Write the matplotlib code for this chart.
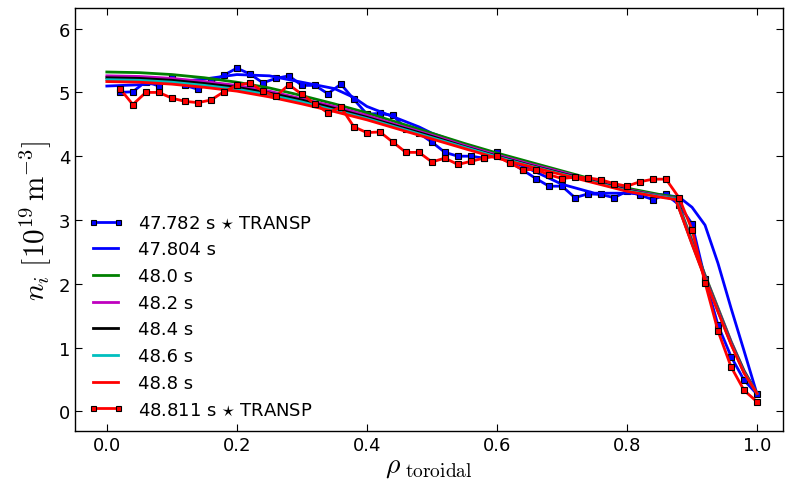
import matplotlib
matplotlib.use("Agg")
import matplotlib.pyplot as plt

plt.rcParams['mathtext.fontset'] = 'cm'
plt.rcParams['font.family'] = ['DejaVu Sans']

# radial grid for TRANSP data
rho_transp = [0.02, 0.04, 0.06, 0.08, 0.10, 0.12, 0.14, 0.16, 0.18, 0.20,
              0.22, 0.24, 0.26, 0.28, 0.30, 0.32, 0.34, 0.36, 0.38, 0.40,
              0.42, 0.44, 0.46, 0.48, 0.50, 0.52, 0.54, 0.56, 0.58, 0.60,
              0.62, 0.64, 0.66, 0.68, 0.70, 0.72, 0.74, 0.76, 0.78, 0.80,
              0.82, 0.84, 0.86, 0.88, 0.90, 0.92, 0.94, 0.96, 0.98, 1.00]

ni_transp_47782 = [5.00, 5.01, 5.17, 5.10, 5.24, 5.11, 5.05, 5.16, 5.27, 5.38,
                   5.29, 5.15, 5.22, 5.26, 5.11, 5.11, 4.98, 5.13, 4.89, 4.66,
                   4.67, 4.64, 4.43, 4.36, 4.22, 4.06, 4.00, 4.00, 3.97, 4.06,
                   3.91, 3.78, 3.65, 3.53, 3.53, 3.35, 3.41, 3.40, 3.35, 3.45,
                   3.39, 3.32, 3.40, 3.24, 2.94, 2.08, 1.35, 0.86, 0.49, 0.27]

ni_transp_48811 = [5.06, 4.81, 5.00, 5.00, 4.91, 4.86, 4.84, 4.88, 5.01, 5.11,
                   5.15, 5.02, 4.94, 5.12, 4.97, 4.82, 4.68, 4.77, 4.46, 4.37,
                   4.38, 4.22, 4.06, 4.06, 3.91, 3.97, 3.87, 3.92, 3.97, 4.00,
                   3.89, 3.79, 3.79, 3.71, 3.65, 3.67, 3.66, 3.63, 3.57, 3.53,
                   3.60, 3.64, 3.64, 3.35, 2.85, 2.02, 1.26, 0.70, 0.33, 0.15]

# fitted profile 47.804 s
rho_47804 = [0.0, 0.05, 0.1, 0.15, 0.2, 0.25, 0.3, 0.35, 0.38, 0.4, 0.45, 0.48,
             0.5, 0.55, 0.6, 0.65, 0.7, 0.75, 0.8, 0.85, 0.88, 0.9, 0.92, 0.94,
             0.96, 0.98, 1.0]
ni_47804 = [5.10, 5.12, 5.16, 5.21, 5.28, 5.26, 5.16, 5.06, 4.92, 4.78, 4.58, 4.46,
            4.36, 4.18, 4.02, 3.80, 3.56, 3.42, 3.42, 3.40, 3.36, 3.20, 2.92, 2.32,
            1.62, 0.95, 0.27]

# model profiles
rho_model = [0.0, 0.05, 0.1, 0.15, 0.2, 0.25, 0.3, 0.35, 0.4, 0.45, 0.5, 0.55,
             0.6, 0.65, 0.7, 0.75, 0.8, 0.85, 0.875, 0.9, 0.92, 0.94, 0.96, 0.98, 1.0]
ni_480 = [5.32, 5.31, 5.28, 5.23, 5.16, 5.07, 4.95, 4.82, 4.68, 4.52, 4.36, 4.20,
          4.05, 3.91, 3.77, 3.63, 3.50, 3.40, 3.36, 2.68, 2.14, 1.62, 1.10, 0.64, 0.28]
ni_482 = [5.26, 5.25, 5.22, 5.17, 5.11, 5.02, 4.90, 4.78, 4.64, 4.48, 4.33, 4.17,
          4.02, 3.88, 3.75, 3.61, 3.48, 3.38, 3.34, 2.66, 2.12, 1.60, 1.09, 0.63, 0.28]
ni_484 = [5.23, 5.22, 5.19, 5.14, 5.08, 4.99, 4.88, 4.75, 4.61, 4.46, 4.31, 4.15,
          4.00, 3.86, 3.73, 3.60, 3.47, 3.37, 3.33, 2.64, 2.10, 1.58, 1.07, 0.62, 0.28]
ni_486 = [5.20, 5.19, 5.16, 5.11, 5.05, 4.96, 4.85, 4.72, 4.59, 4.44, 4.29, 4.14,
          3.99, 3.85, 3.72, 3.59, 3.46, 3.37, 3.33, 2.63, 2.09, 1.57, 1.06, 0.61, 0.28]
ni_488 = [5.17, 5.16, 5.13, 5.08, 5.02, 4.93, 4.82, 4.70, 4.57, 4.42, 4.27, 4.12,
          3.97, 3.84, 3.71, 3.58, 3.45, 3.36, 3.32, 2.62, 2.08, 1.56, 1.05, 0.60, 0.28]

labels = ['47.782 s $\\star$ TRANSP', '47.804 s', '48.0 s', '48.2 s',
          '48.4 s', '48.6 s', '48.8 s', '48.811 s $\\star$ TRANSP']

fig = plt.figure(figsize=(7.85, 4.85), dpi=100)
ax = fig.add_axes([0.0955, 0.109, 0.902, 0.872])

lw = 2
ax.plot(rho_transp, ni_transp_47782, '-s', color='b', lw=lw, ms=4.5,
        mfc='b', mec='k', mew=0.8, label=labels[0])
ax.plot(rho_47804, ni_47804, '-', color='b', lw=lw, label=labels[1])
ax.plot(rho_model, ni_480, '-', color='g', lw=lw, label=labels[2])
ax.plot(rho_model, ni_482, '-', color='m', lw=lw, label=labels[3])
ax.plot(rho_model, ni_484, '-', color='k', lw=lw, label=labels[4])
ax.plot(rho_model, ni_486, '-', color='c', lw=lw, label=labels[5])
ax.plot(rho_model, ni_488, '-', color='r', lw=lw, label=labels[6])
ax.plot(rho_transp, ni_transp_48811, '-s', color='r', lw=lw, ms=4.5,
        mfc='r', mec='k', mew=0.8, label=labels[7])

ax.set_xlim(-0.049, 1.04)
ax.set_ylim(-0.31, 6.32)
ax.set_xticks([0.0, 0.2, 0.4, 0.6, 0.8, 1.0])
ax.set_yticks([0, 1, 2, 3, 4, 5, 6])
ax.tick_params(direction='in', top=True, right=True, labelsize=13, length=5, width=0.8)
for s in ax.spines.values():
    s.set_linewidth(1.0)

ax.set_xlabel(r'$\rho_{\ \mathrm{toroidal}}$', fontsize=20, labelpad=-2)
ax.set_ylabel(r'$n_i\ [10^{19}\,\mathrm{m}^{-3}]$', fontsize=21, labelpad=4)

ax.legend(loc='lower left', frameon=False, fontsize=13, numpoints=2,
          handlelength=2.0, labelspacing=0.48, borderaxespad=0.3,
          markerscale=0.8, bbox_to_anchor=(0.0, 0.0))

fig.savefig('out.png', dpi=100)
